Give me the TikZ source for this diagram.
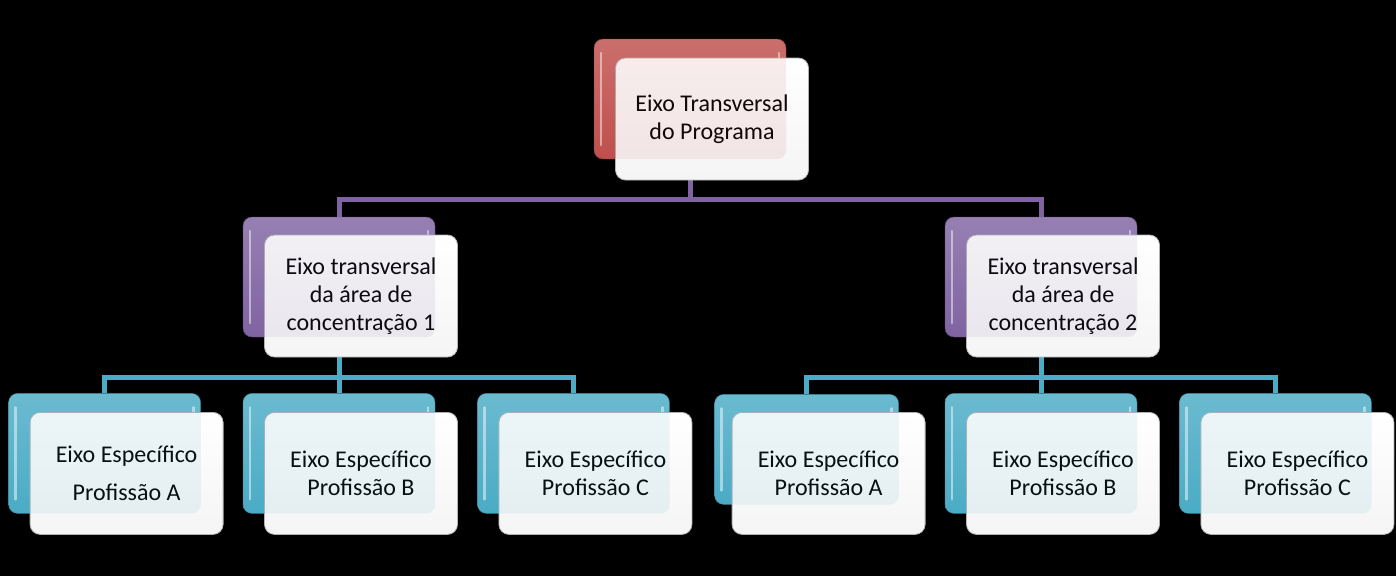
\documentclass[tikz,border=0pt]{standalone}
\usepackage{fontspec}
\setmainfont{Carlito}
\usepackage{tikz}
\usetikzlibrary{positioning}
\definecolor{redax}{RGB}{192,80,77}
\definecolor{purpax}{RGB}{128,100,162}
\definecolor{tealax}{RGB}{75,172,198}
\tikzstyle{backbox} = [rectangle, rounded corners=9pt, minimum width=192pt, minimum height=120pt, inner sep=0pt,
  path picture={\draw[white, opacity=0.55, line width=2.5pt, line cap=round]
    ([xshift=7pt,yshift=-14pt]path picture bounding box.north west) -- ([xshift=7pt,yshift=14pt]path picture bounding box.south west)
    ([xshift=-7pt,yshift=-14pt]path picture bounding box.north east) -- ([xshift=-7pt,yshift=14pt]path picture bounding box.south east);}]
\tikzstyle{redbox} = [backbox, top color=redax!80, bottom color=redax, draw=redax!70!black]
\tikzstyle{purpbox} = [backbox, top color=purpax!80, bottom color=purpax, draw=purpax!70!black]
\tikzstyle{tealbox} = [backbox, top color=tealax!80, bottom color=tealax, draw=tealax!70!black]
\tikzstyle{textbox} = [rectangle, rounded corners=10pt, minimum width=193pt, minimum height=122pt, inner sep=2pt,
  top color=white, bottom color=gray!8, draw=gray!60, line width=0.8pt, align=center,
  font=\fontsize{24}{28}\selectfont]
\tikzstyle{tint} = [rounded corners=9pt, opacity=0.1]
\tikzstyle{purpline} = [purpax, line width=5pt]
\tikzstyle{tealline} = [tealax, line width=5pt]

\begin{document}
\begin{tikzpicture}[x=1pt, y=-1pt]
\fill [black] (0,0) rectangle (1396,576);
\useasboundingbox (0,0) rectangle (1396,576);

% back boxes
\node [redbox] (tb) at (690,99) {};
\node [purpbox] (m1b) at (339,277) {};
\node [purpbox] (m2b) at (1041,277) {};
\node [tealbox] (b2b) [below=56pt of m1b] {};
\node [tealbox] (b1b) [left=42pt of b2b] {};
\node [tealbox] (b3b) [right=42pt of b2b] {};
\node [tealbox] (b5b) [below=56pt of m2b] {};
\node [tealbox, minimum width=184pt, minimum height=110pt, yshift=4pt] (b4b) [left=46pt of b5b] {};
\node [tealbox] (b6b) [right=42pt of b5b] {};

% connectors
\draw [purpline] (tb.south) -- ++(0,40) -| (m1b.north);
\draw [purpline] (tb.south) -- ++(0,40) -| (m2b.north);
\draw [tealline] (m1b.south) -- ++(0,40) -| (b1b.north);
\draw [tealline] (m1b.south) -- ++(0,40) -| (b2b.north);
\draw [tealline] (m1b.south) -- ++(0,40) -| (b3b.north);
\draw [tealline] (m2b.south) -- ++(0,40) -| (b4b.north);
\draw [tealline] (m2b.south) -- ++(0,40) -| (b5b.north);
\draw [tealline] (m2b.south) -- ++(0,40) -| (b6b.north);

% front boxes
\node [textbox, xshift=22pt, yshift=-20pt] (t) at (tb) {Eixo Transversal\\do Programa};
\node [textbox, xshift=22pt, yshift=-19pt] (m1) at (m1b) {Eixo transversal\\da área de\\concentração 1};
\node [textbox, xshift=22pt, yshift=-19pt] (m2) at (m2b) {Eixo transversal\\da área de\\concentração 2};
\node [textbox, xshift=22pt, yshift=-20pt] (b1) at (b1b) {Eixo Específico\\[10pt]Profissão A};
\node [textbox, xshift=22pt, yshift=-20pt] (b2) at (b2b) {Eixo Específico\\Profissão B};
\node [textbox, xshift=22pt, yshift=-20pt] (b3) at (b3b) {Eixo Específico\\Profissão C};
\node [textbox, xshift=22pt, yshift=-20pt] (b4) at (b5b -| b4b) {Eixo Específico\\Profissão A};
\node [textbox, xshift=22pt, yshift=-20pt] (b5) at (b5b) {Eixo Específico\\Profissão B};
\node [textbox, xshift=22pt, yshift=-20pt] (b6) at (b6b) {Eixo Específico\\Profissão C};

% tint where the front boxes lie over the back boxes
\fill [tint, redax] (tb.north west) rectangle (tb.south east);
\fill [tint, purpax] (m1b.north west) rectangle (m1b.south east);
\fill [tint, purpax] (m2b.north west) rectangle (m2b.south east);
\fill [tint, tealax] (b1b.north west) rectangle (b1b.south east);
\fill [tint, tealax] (b2b.north west) rectangle (b2b.south east);
\fill [tint, tealax] (b3b.north west) rectangle (b3b.south east);
\fill [tint, tealax] (b4b.north west) rectangle (b4b.south east);
\fill [tint, tealax] (b5b.north west) rectangle (b5b.south east);
\fill [tint, tealax] (b6b.north west) rectangle (b6b.south east);

\end{tikzpicture}
\end{document}
